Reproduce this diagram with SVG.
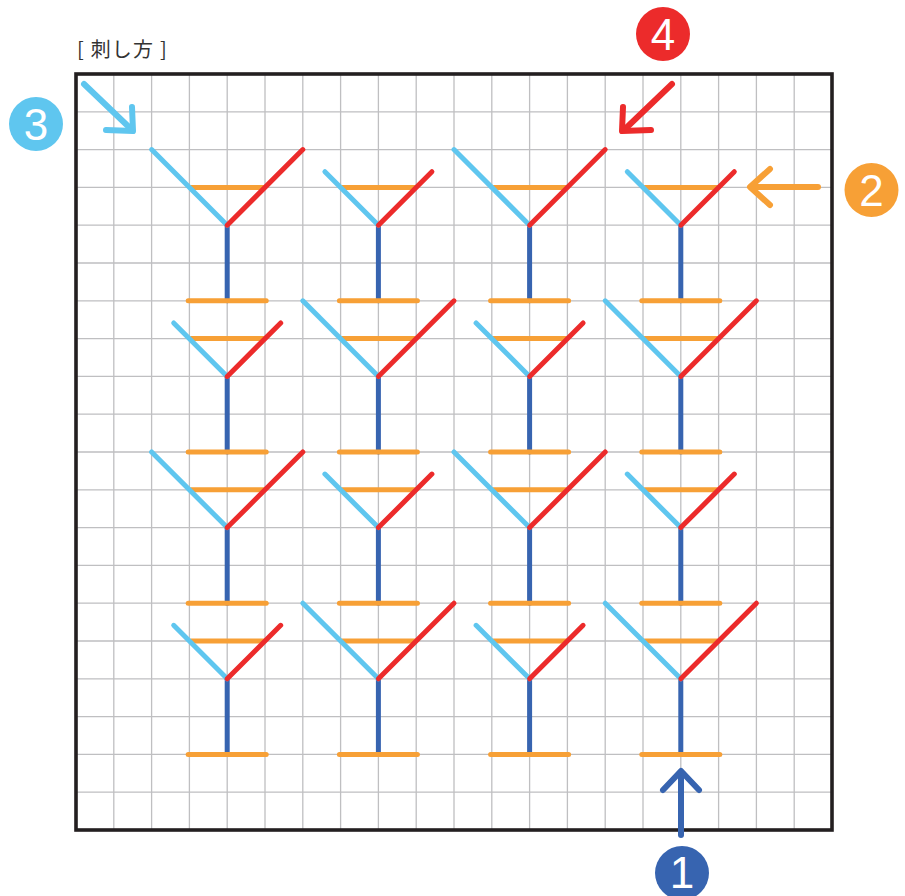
<svg xmlns="http://www.w3.org/2000/svg" xmlns:xlink="http://www.w3.org/1999/xlink" width="905" height="896" viewBox="0 0 905 896">
<style>
.grid{stroke:#bfbfc1;stroke-width:1.3;fill:none}
.frame{stroke:#231f20;stroke-width:3.6;fill:none}
line,polyline{stroke-linecap:round;stroke-linejoin:round;fill:none}
.o{stroke:#f7a036;stroke-width:5}
.s{stroke:#3764b0;stroke-width:5}
.b{stroke:#5fc6ef;stroke-width:5}
.r{stroke:#ec2b2b;stroke-width:5}
.ab{stroke-width:6}
.num{font-family:"Liberation Sans",Arial,sans-serif;font-size:44px;fill:#ffffff;text-anchor:middle}
.title{font-family:"Noto Sans CJK JP","Liberation Sans",sans-serif;font-size:20px;fill:#333333;letter-spacing:1.2px}
</style>
<defs>
<g id="L">
<line class="s" x1="0" y1="0" x2="0" y2="75.6"/>
<line class="o" x1="-39" y1="75.6" x2="39" y2="75.6"/>
<line class="o" x1="-36" y1="-37.8" x2="36" y2="-37.8"/>
<line class="b" x1="-75.6" y1="-75.6" x2="0" y2="0"/>
<line class="r" x1="0" y1="0" x2="75.6" y2="-75.6"/>
</g>
<g id="S">
<line class="s" x1="0" y1="0" x2="0" y2="75.6"/>
<line class="o" x1="-39" y1="75.6" x2="39" y2="75.6"/>
<line class="o" x1="-36" y1="-37.8" x2="36" y2="-37.8"/>
<line class="b" x1="-53.5" y1="-53.5" x2="0" y2="0"/>
<line class="r" x1="0" y1="0" x2="53.5" y2="-53.5"/>
</g>
</defs>
<rect width="905" height="896" fill="#ffffff"/>
<text class="title" x="77" y="57">[ 刺し方 ]</text>
<g id="grid">
<path class="grid" d="M113.8,74V830M151.6,74V830M189.4,74V830M227.2,74V830M265,74V830M302.8,74V830M340.6,74V830M378.4,74V830M416.2,74V830M454,74V830M491.8,74V830M529.6,74V830M567.4,74V830M605.2,74V830M643,74V830M680.8,74V830M718.6,74V830M756.4,74V830M794.2,74V830"/>
<path class="grid" d="M76,111.8H832M76,149.6H832M76,187.4H832M76,225.2H832M76,263H832M76,300.8H832M76,338.6H832M76,376.4H832M76,414.2H832M76,452H832M76,489.8H832M76,527.6H832M76,565.4H832M76,603.2H832M76,641H832M76,678.8H832M76,716.6H832M76,754.4H832M76,792.2H832"/>
<rect class="frame" x="76" y="74" width="756" height="756"/>
</g>
<g id="m11" transform="translate(227.2,225.2)"><use href="#L"/></g>
<g id="m12" transform="translate(378.4,225.2)"><use href="#S"/></g>
<g id="m13" transform="translate(529.6,225.2)"><use href="#L"/></g>
<g id="m14" transform="translate(680.8,225.2)"><use href="#S"/></g>
<g id="m21" transform="translate(227.2,376.4)"><use href="#S"/></g>
<g id="m22" transform="translate(378.4,376.4)"><use href="#L"/></g>
<g id="m23" transform="translate(529.6,376.4)"><use href="#S"/></g>
<g id="m24" transform="translate(680.8,376.4)"><use href="#L"/></g>
<g id="m31" transform="translate(227.2,527.6)"><use href="#L"/></g>
<g id="m32" transform="translate(378.4,527.6)"><use href="#S"/></g>
<g id="m33" transform="translate(529.6,527.6)"><use href="#L"/></g>
<g id="m34" transform="translate(680.8,527.6)"><use href="#S"/></g>
<g id="m41" transform="translate(227.2,678.8)"><use href="#S"/></g>
<g id="m42" transform="translate(378.4,678.8)"><use href="#L"/></g>
<g id="m43" transform="translate(529.6,678.8)"><use href="#S"/></g>
<g id="m44" transform="translate(680.8,678.8)"><use href="#L"/></g>
<g id="arrows">
<g id="arrow1">
<line class="s ab" x1="681" y1="835" x2="681" y2="772"/>
<polyline class="s ab" points="663,790 681,771 699,790"/>
</g>
<g id="arrow2">
<line class="o ab" x1="818" y1="187" x2="751" y2="187"/>
<polyline class="o ab" points="770,169 750,187 770,205"/>
</g>
<g id="arrow3">
<line class="b ab" x1="84" y1="84" x2="131" y2="129"/>
<polyline class="b ab" points="132,107 133,131 106,130"/>
</g>
<g id="arrow4">
<line class="r ab" x1="672" y1="84" x2="624" y2="130"/>
<polyline class="r ab" points="623,107 622,131 651,130"/>
</g>
</g>
<g id="badge1"><circle cx="682" cy="873" r="27" fill="#3764b0"/><text class="num" x="682" y="888" font-size="42">1</text></g>
<g id="badge2"><circle cx="871.5" cy="190" r="27" fill="#f7a036"/><text class="num" x="871.5" y="206">2</text></g>
<g id="badge3"><circle cx="36" cy="124" r="27" fill="#5fc6ef"/><text class="num" x="36" y="140">3</text></g>
<g id="badge4"><circle cx="663" cy="34" r="27" fill="#ec2b2b"/><text class="num" x="663" y="50">4</text></g>
</svg>
